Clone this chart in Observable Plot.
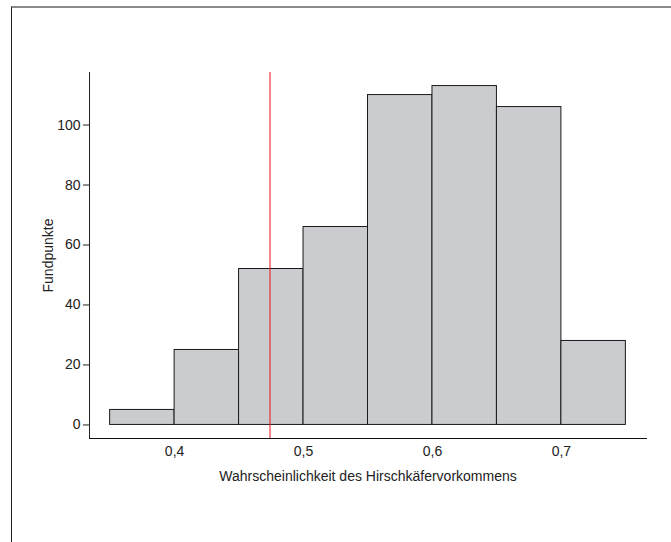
<!DOCTYPE html>
<html>
<head>
<meta charset="utf-8">
<script src="https://cdn.jsdelivr.net/npm/d3@7"></script>
<script src="https://cdn.jsdelivr.net/npm/@observablehq/plot@0.6"></script>
<style>
  html, body { margin: 0; padding: 0; background: #fff; }
  #wrap { position: relative; width: 671px; height: 542px; overflow: hidden; }
  #border { position: absolute; left: 11px; top: 6px; right: -5px; bottom: -5px;
            border-top: 2px solid #8a8a8a; border-left: 1px solid #222; pointer-events: none; }
  #wrap svg { position: absolute; left: 0; top: 0; }
</style>
</head>
<body>
<div id="wrap"><div id="border"></div></div>
<script>
const binStart = [0.35, 0.40, 0.45, 0.50, 0.55, 0.60, 0.65, 0.70];
const binEnd   = [0.40, 0.45, 0.50, 0.55, 0.60, 0.65, 0.70, 0.75];
const counts   = [5, 25, 52, 66, 110, 113, 106, 28];
const xTicks = [0.4, 0.5, 0.6, 0.7];
const yTicks = [0, 20, 40, 60, 80, 100];
const threshold = [0.474];

const bins = counts.map((c, i) => ({x1: binStart[i], x2: binEnd[i], count: c}));
const fmt = d => d.toFixed(1).replace(".", ",");

const chart = Plot.plot({
  width: 671,
  height: 542,
  marginLeft: 89,
  marginRight: 25,
  marginTop: 72,
  marginBottom: 104,
  style: {fontFamily: "'Liberation Sans', Arial, sans-serif", fontSize: "14px", color: "#222", background: "transparent"},
  x: {domain: [0.334, 0.766]},
  y: {domain: [-4.52, 117.52]},
  marks: [
    Plot.rectY(bins, {x1: "x1", x2: "x2", y1: 0, y2: "count", fill: "#cbccd0", stroke: "#1a1a1a", strokeWidth: 1}),
    Plot.ruleX(threshold, {stroke: "#e8141a", strokeWidth: 1}),
    Plot.frame({anchor: "left", stroke: "#222"}),
    Plot.frame({anchor: "bottom", stroke: "#111"}),
    Plot.axisY(yTicks, {tickSize: 6, tickPadding: 3, label: "Fundpunkte", labelAnchor: "center", labelArrow: "none", labelOffset: 46, fontSize: 14}),
    Plot.axisX(xTicks, {tickSize: 0, tickPadding: 8, tickFormat: fmt, label: "Wahrscheinlichkeit des Hirschkäfervorkommens", labelAnchor: "center", labelArrow: "none", labelOffset: 42, fontSize: 14})
  ]
});
document.getElementById("wrap").appendChild(chart);
</script>
</body>
</html>
